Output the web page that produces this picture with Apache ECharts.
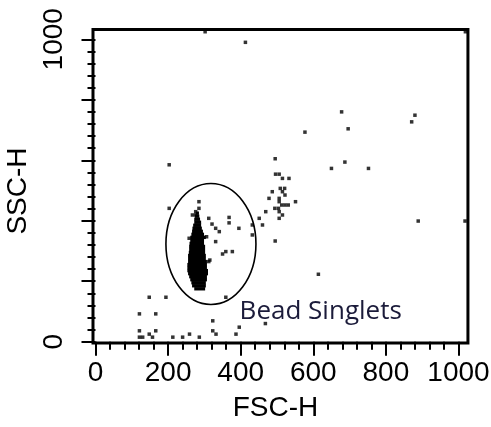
<!DOCTYPE html>
<html><head><meta charset="utf-8">
<script src="https://cdn.jsdelivr.net/npm/echarts@6/dist/echarts.min.js"></script>
<style>html,body{margin:0;padding:0;background:#fff;overflow:hidden}#c{width:491px;height:427px}</style>
</head><body><div id="c"></div>
<script>
// ---- data ----
const xTickLabels = ['0','200','400','600','800','1000'];
const yTickLabels = ['0','1000'];          // only these SSC-H labels are printed
const xName = 'FSC-H';
const yName = 'SSC-H';

// individual events [FSC-H, SSC-H]
const events = [
  [302,1025],[413,990],[1019,1025],
  [678,760],[880,749],[871,727],[696,704],[577,693],
  [495,605],[203,585],[687,594],[650,573],[752,573],
  [889,399],[1018,399],[495,333],[614,223],
  [203,441],[285,463],[285,441],[276,430],[267,419],[276,419],
  [258,342],[306,347],[315,270],
  [148,147],[194,147],[359,147],[121,92],[166,92],[323,69],[468,60],[396,48],
  [121,36],[148,25],[166,36],[323,36],[332,25],[387,25],
  [121,15],[130,15],[157,15],[213,15],[240,15],[259,25],[286,15],
  [496,554],[506,554],[515,540],[533,540],[509,507],[521,507],[487,496],[515,496],
  [522,485],[478,474],[506,474],[506,463],[551,463],[513,452],[522,452],[531,452],
  [494,441],[504,441],[506,430],[515,419],[506,408],[469,430],[451,408],[460,386],[432,353],
  [312,408],[321,389],[331,375],[341,364],[368,411],[368,393],[395,375],[331,331],
  [312,265],[350,290],[359,298],[377,298],[432,386]
];

// saturated (dense) bead population, per SSC-H row: [SSC-H, FSC-H from, FSC-H to]
const denseRows = [
  [425,276,285],[415,274,286],[405,272,288],[395,272,291],[385,269,291],[375,267,293],
  [365,266,296],[355,264,299],[345,261,304],[335,261,299],[325,259,299],[315,258,302],
  [305,258,302],[295,257,302],[285,255,304],[275,255,304],[265,255,307],[255,253,307],
  [245,253,307],[235,253,310],[225,255,310],[215,258,307],[205,261,307],[195,264,304],
  [185,266,304],[175,272,302]
];

// gate
const gateName = 'Bead Singlets';
const gateCenter = [318, 323];
const gateRadii = [124, 200];
const gateLabelAt = [397, 101];

// ---- chart ----
const chart = echarts.init(document.getElementById('c'), null, {renderer: 'canvas'});
const FONT = 'Liberation Sans, Arial, sans-serif';
const tickStyle = {color: '#000', width: 2};

const option = {
  animation: false,
  backgroundColor: '#fff',
  grid: {left: 95.5, right: 32.5, top: 39.3, bottom: 85.3, containLabel: false, outerBoundsMode: 'none'},
  xAxis: {
    type: 'value', min: 0, max: 1000, interval: 200, offset: 1.3,
    axisLine: {show: false},
    axisTick: {show: true, length: 14, lineStyle: tickStyle},
    minorTick: {show: true, splitNumber: 5, length: 8, lineStyle: tickStyle},
    splitLine: {show: false}, minorSplitLine: {show: false},
    axisLabel: {
      fontFamily: FONT, fontSize: 28, color: '#000', margin: 16,
      formatter: v => { const s = String(v); return xTickLabels.indexOf(s) >= 0 ? s : ''; }
    },
    name: xName, nameLocation: 'middle', nameGap: 51,
    nameTextStyle: {fontFamily: FONT, fontSize: 28, color: '#000', padding: [0, 3, 0, 0]}
  },
  yAxis: {
    type: 'value', min: 0, max: 1000, interval: 200, offset: 3,
    axisLine: {show: false},
    axisTick: {show: true, length: 14, lineStyle: tickStyle},
    minorTick: {show: true, splitNumber: 5, length: 8, lineStyle: tickStyle},
    splitLine: {show: false}, minorSplitLine: {show: false},
    axisLabel: {
      fontFamily: FONT, fontSize: 28, color: '#000', margin: 24, rotate: 90,
      formatter: v => { const s = String(v); return yTickLabels.indexOf(s) >= 0 ? s : ''; }
    },
    name: yName, nameLocation: 'middle', nameGap: 53,
    nameTextStyle: {fontFamily: FONT, fontSize: 28, color: '#000', padding: [0, 1, 0, 0]}
  },
  series: [
    {
      type: 'custom', name: 'dense', clip: false, silent: true,
      data: denseRows,
      renderItem: (params, api) => {
        const p1 = api.coord([api.value(1), api.value(0) + 5.6]);
        const p2 = api.coord([api.value(2), api.value(0) - 5.6]);
        return {type: 'rect', shape: {x: p1[0], y: p1[1], width: p2[0] - p1[0], height: p2[1] - p1[1]},
                style: {fill: '#000'}};
      }
    },
    {
      type: 'scatter', name: 'events', clip: false, silent: true,
      symbol: 'rect', symbolSize: 3.5,
      itemStyle: {color: '#000'},
      data: events
    },
    {
      type: 'custom', name: 'gate', clip: false, silent: true,
      data: [[gateCenter[0], gateCenter[1], gateRadii[0], gateRadii[1]]],
      renderItem: (params, api) => {
        const c = api.coord([api.value(0), api.value(1)]);
        const s = api.size([api.value(2), api.value(3)]);
        return {type: 'ellipse', shape: {cx: c[0], cy: c[1], rx: s[0], ry: s[1]},
                style: {fill: 'none', stroke: '#000', lineWidth: 1.6}};
      }
    },
    {
      type: 'custom', name: 'gateLabel', clip: false, silent: true,
      data: [[gateLabelAt[0], gateLabelAt[1]]],
      renderItem: (params, api) => {
        const c = api.coord([api.value(0), api.value(1)]);
        return {type: 'text', x: c[0], y: c[1],
                style: {text: gateName, font: '26px "Open Sans", sans-serif', fill: '#1b1b3a',
                        align: 'left', verticalAlign: 'middle'}};
      }
    }
  ]
};
chart.setOption(option);

// plot frame slightly larger than the 0..1000 scale
const tl = chart.convertToPixel({gridIndex: 0}, [-6.9, 1032]);
const br = chart.convertToPixel({gridIndex: 0}, [1026, -4.3]);
chart.setOption({
  graphic: [{
    type: 'rect', z: 10, silent: true,
    shape: {x: tl[0], y: tl[1], width: br[0] - tl[0], height: br[1] - tl[1]},
    style: {fill: 'none', stroke: '#000', lineWidth: 3}
  }]
});
</script></body></html>
